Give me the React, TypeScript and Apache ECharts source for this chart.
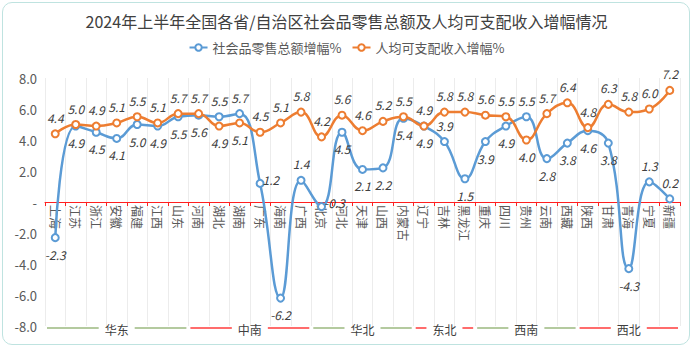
import React, { useEffect, useRef } from "react";
import * as echarts from "echarts";

const categories = ["上海","江苏","浙江","安徽","福建","江西","山东","河南","湖北","湖南","广东","海南","广西","北京","河北","天津","山西","内蒙古","辽宁","吉林","黑龙江","重庆","四川","贵州","云南","西藏","陕西","甘肃","青海","宁夏","新疆"];
const retailGrowth = [-2.3,4.9,4.5,4.1,5.0,4.9,5.5,5.6,5.5,5.7,1.2,-6.2,1.4,-0.3,4.5,2.1,2.2,5.4,4.9,3.9,1.5,3.9,4.9,5.5,2.8,3.8,4.6,3.8,-4.3,1.3,0.2];
const incomeGrowth = [4.4,5.0,4.9,5.1,5.5,5.1,5.7,5.7,4.9,5.1,4.5,5.1,5.8,4.2,5.6,4.6,5.2,5.5,4.9,5.8,5.8,5.6,5.5,4.0,5.7,6.4,4.8,6.3,5.8,6.0,7.2];
// label placement: t = top, b = bottom, r = right
const retailLabelPos = ["b","b","b","b","b","b","b","b","t","t","r","b","t","r","b","b","b","b","b","t","b","b","b","t","b","b","b","b","b","t","t"];
const incomeLabelPos = ["t","t","t","t","t","t","t","t","b","b","t","t","t","t","t","t","t","t","t","t","t","t","t","b","t","t","t","t","t","t","t"];
const groupNames = ["华东","中南","华北","东北","西南","西北"];
const groupStart = [0,7,13,18,21,26];
const groupCount = [7,6,5,3,5,5];
const groupColors = ["#9bb87f","#ff3b3b","#9bb87f","#ff3b3b","#9bb87f","#ff3b3b"];

const FONT = "'Noto Sans CJK SC', 'Noto Sans', sans-serif";
const posMap: Record<string, string> = { t: "top", b: "bottom", r: "right" };

function buildData(values: number[], pos: string[]) {
  return values.map((v, i) => ({
    value: v,
    label: {
      position: posMap[pos[i]] as any,
      distance: pos[i] === "r" ? 0 : 6,
      offset: pos[i] === "r" ? [-2, -4] : [0, 0],
    },
  }));
}

export default function App() {
  const ref = useRef<HTMLDivElement>(null);
  useEffect(() => {
    if (!ref.current) return;
    const chart = echarts.init(ref.current, undefined, { renderer: "svg" });
    const labelStyle = {
      show: true,
      fontStyle: "italic" as const,
      fontSize: 12,
      color: "#404040",
      fontFamily: FONT,
      formatter: (p: any) => Number(p.value).toFixed(1),
    };
    const option: any = {
      animation: false,
      title: {
        text: "2024年上半年全国各省/自治区社会品零售总额及人均可支配收入增幅情况",
        left: "center",
        top: 8,
        textStyle: { fontSize: 16, fontWeight: "normal", color: "#404040", fontFamily: FONT },
      },
      legend: {
        top: 36,
        left: "center",
        itemWidth: 18,
        itemHeight: 8,
        itemGap: 10,
        textStyle: { fontSize: 13, color: "#595959", fontFamily: FONT },
        data: [
          { name: "社会品零售总额增幅%", itemStyle: { color: "#ffffff", borderColor: "#5b9bd5", borderWidth: 2 }, lineStyle: { color: "#5b9bd5" } },
          { name: "人均可支配收入增幅%", itemStyle: { color: "#ffffff", borderColor: "#ed7d31", borderWidth: 2 }, lineStyle: { color: "#ed7d31" } },
        ],
      },
      grid: { left: 45, right: 13, top: 78, bottom: 22, containLabel: false, outerBoundsMode: "none" },
      xAxis: {
        type: "category",
        data: categories,
        boundaryGap: true,
        offset: 0,
        axisLine: { onZero: false, lineStyle: { color: "#ff2020", width: 1 } },
        axisTick: { show: true, length: 4, lineStyle: { color: "#ff2020" } },
        axisLabel: {
          rotate: -90,
          fontSize: 12,
          color: "#595959",
          margin: 3,
          interval: 0,
          fontFamily: FONT,
        },
        splitLine: { show: true, lineStyle: { color: "#ececec", width: 1 } },
      },
      yAxis: {
        type: "value",
        min: -8,
        max: 8,
        interval: 2,
        axisLine: { show: false },
        axisTick: { show: false },
        splitLine: { show: false },
        axisLabel: {
          fontSize: 13,
          color: "#595959",
          margin: 8,
          fontFamily: FONT,
          formatter: (v: number) => (v === 0 ? "-" : v.toFixed(1)),
        },
      },
      series: [
        {
          name: "社会品零售总额增幅%",
          type: "line",
          smooth: 0.45,
          data: buildData(retailGrowth, retailLabelPos),
          symbol: "circle",
          symbolSize: 7,
          itemStyle: { color: "#ffffff", borderColor: "#5b9bd5", borderWidth: 2 },
          lineStyle: { color: "#5b9bd5", width: 2.5 },
          label: labelStyle,
          z: 3,
        },
        {
          name: "人均可支配收入增幅%",
          type: "line",
          smooth: 0.45,
          data: buildData(incomeGrowth, incomeLabelPos),
          symbol: "circle",
          symbolSize: 7,
          itemStyle: { color: "#ffffff", borderColor: "#ed7d31", borderWidth: 2 },
          lineStyle: { color: "#ed7d31", width: 2.5 },
          label: labelStyle,
          z: 4,
        },
      ],
    };
    chart.setOption(option);

    const yBottom = chart.convertToPixel({ yAxisIndex: 0 }, -8) as number;
    const yZero = chart.convertToPixel({ yAxisIndex: 0 }, 0) as number;
    // move the category axis (line, ticks, labels) up to the value 0
    chart.setOption({ xAxis: { offset: -(yBottom - yZero) } });

    // group bracket lines at the bottom, placed via the category scale
    const c0 = chart.convertToPixel({ xAxisIndex: 0 }, categories[0]) as number;
    const c1 = chart.convertToPixel({ xAxisIndex: 0 }, categories[1]) as number;
    const band = c1 - c0;
    const lineY = yBottom + 2;
    const graphics: any[] = [];
    groupNames.forEach((name, gi) => {
      const sIdx = groupStart[gi];
      const eIdx = sIdx + groupCount[gi] - 1;
      const left = (chart.convertToPixel({ xAxisIndex: 0 }, categories[sIdx]) as number) - band / 2;
      const right = (chart.convertToPixel({ xAxisIndex: 0 }, categories[eIdx]) as number) + band / 2;
      const mid = (left + right) / 2;
      const tw = name.length * 12;
      const gap = 6;
      const color = groupColors[gi];
      graphics.push({
        type: "line",
        shape: { x1: left + 2, y1: lineY, x2: mid - tw / 2 - gap, y2: lineY },
        style: { stroke: color, lineWidth: 1.5 },
        silent: true,
      });
      graphics.push({
        type: "line",
        shape: { x1: mid + tw / 2 + gap, y1: lineY, x2: right - 2, y2: lineY },
        style: { stroke: color, lineWidth: 1.5 },
        silent: true,
      });
      graphics.push({
        type: "text",
        x: mid,
        y: lineY + 1,
        style: {
          text: name,
          fontSize: 12,
          fill: "#404040",
          fontFamily: FONT,
          align: "center",
          verticalAlign: "middle",
        },
        silent: true,
      });
    });
    chart.setOption({ graphic: graphics });

    return () => chart.dispose();
  }, []);

  return (
    <div
      style={{
        position: "fixed",
        left: 0,
        top: 0,
        width: 693,
        height: 348,
        background: "#ffffff",
      }}
    >
      <div
        style={{
          position: "absolute",
          left: 2,
          top: 2,
          width: 688,
          height: 343,
          boxSizing: "border-box",
          border: "1.5px solid #bfe3e0",
          borderRadius: 10,
        }}
      />
      <div ref={ref} style={{ position: "absolute", left: 0, top: 0, width: 693, height: 348 }} />
    </div>
  );
}
